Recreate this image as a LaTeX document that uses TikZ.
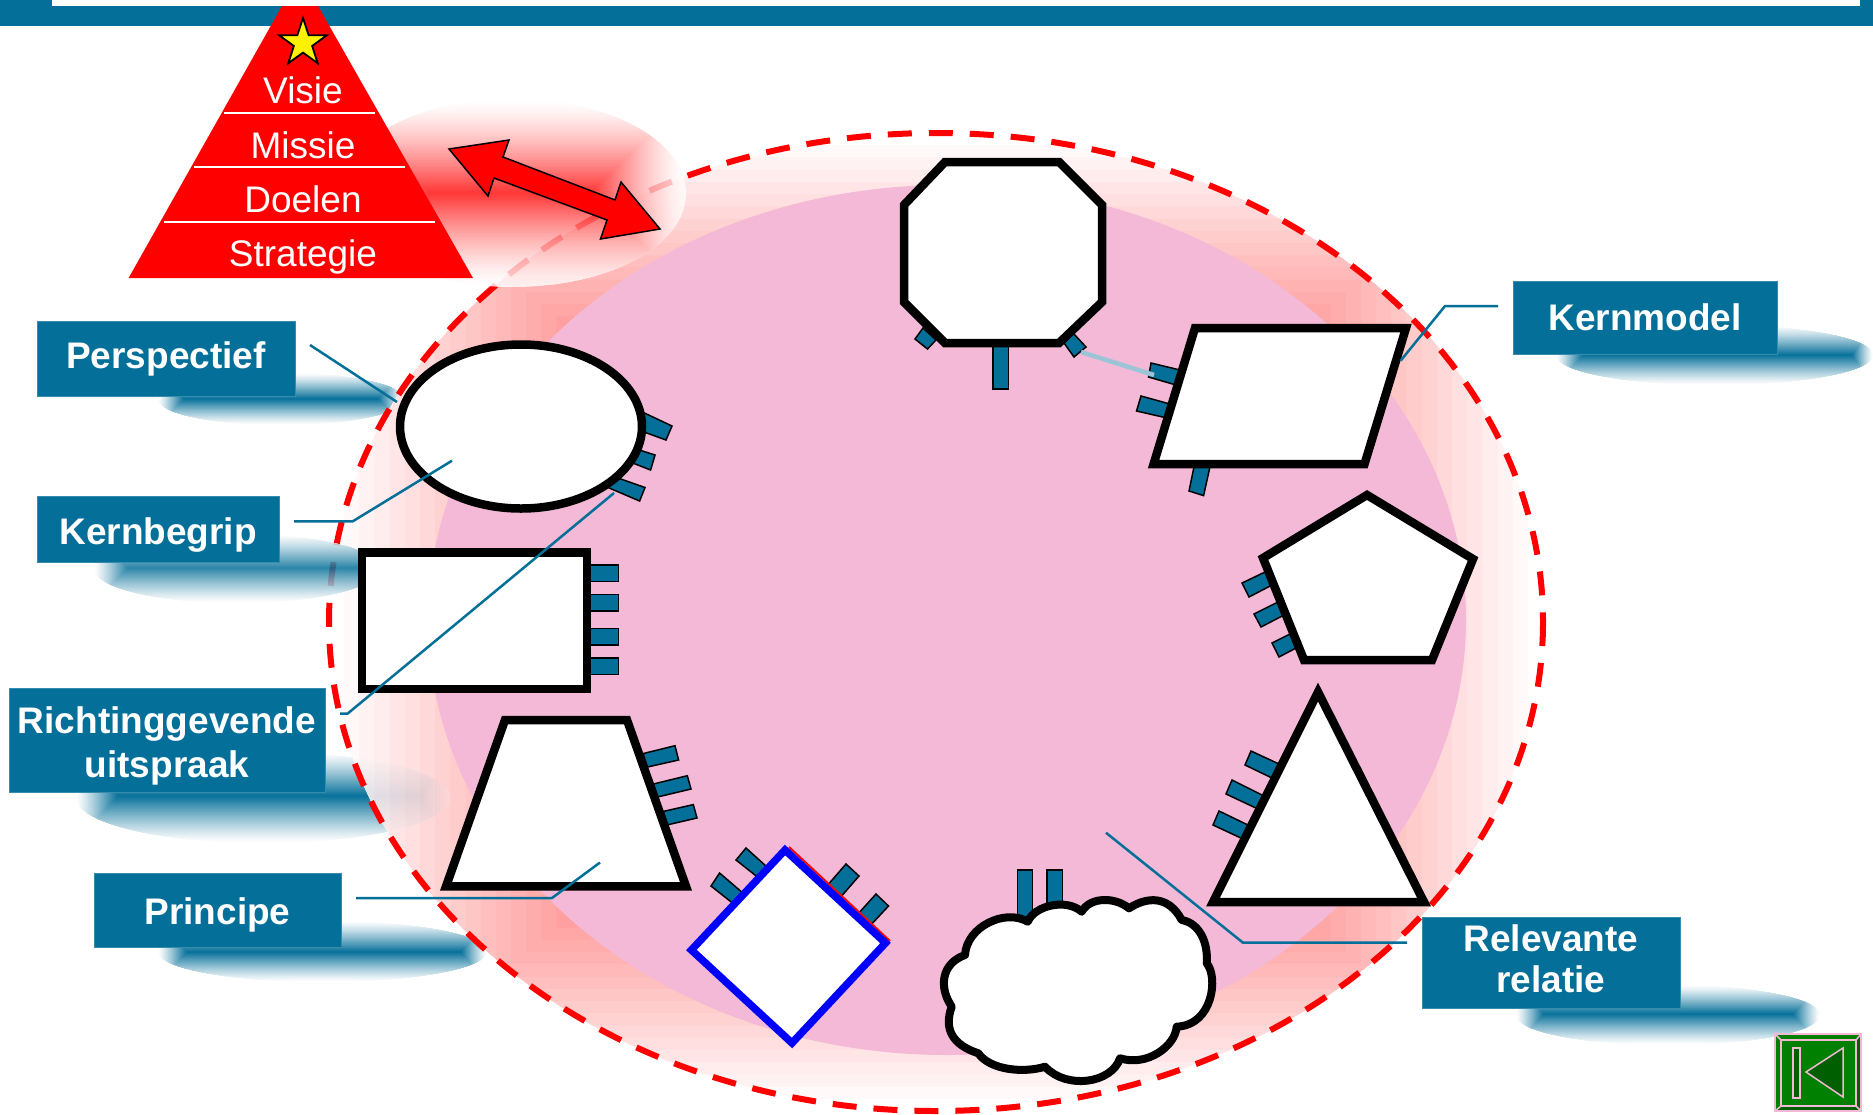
\documentclass[tikz,border=0pt]{standalone}
\usepackage{fontspec}
\setmainfont{Liberation Sans}
\usetikzlibrary{shapes.geometric}

\definecolor{kernteal}{HTML}{046F99}
\definecolor{kernpink}{HTML}{F3B9D7}
\definecolor{knoppink}{HTML}{F4B8D4}
\definecolor{knopgreen}{HTML}{008000}
\definecolor{knopdark}{HTML}{005F00}

\tikzset{
  labelbox/.style={fill=kernteal, draw=kernteal!80!white, line width=1pt, text=white, inner sep=0pt,
    align=center, font=\fontsize{37}{42}\selectfont\bfseries},
  piramidetext/.style={text=white, inner sep=0pt, anchor=base, font=\fontsize{37}{42}\selectfont},
  piramiderule/.style={white, line width=2.5pt},
  leader/.style={kernteal, line width=2.5pt, line join=round},
  stubbox/.style={fill=kernteal, draw=black, line width=1.5pt},
  vorm/.style={fill=white, draw=black, line width=8.5pt, line join=miter}
}

% soft blob: box (x0,y0)-(x1,y1), shrinking to the line (xa,ya)-(xb,ya)
\def\blobpow{1.2}
\newcommand{\softblob}[9]{
  \begin{scope}[transparency group, opacity=#9]
    \begin{scope}
      \clip ({(#1+#3)/2},{(#2+#4)/2}) ellipse [x radius={(#3-#1)/2}, y radius={(#4-#2)/2}];
      \foreach \k in {0,...,40} {
        \pgfmathsetmacro{\t}{\k/40}
        \pgfmathsetmacro{\pct}{100*\t^\blobpow}
        \fill[#8!\pct!white] ({#1+\t*(#5-#1)},{#2+\t*(#6-#2)}) rectangle ({#3+\t*(#7-#3)},{#4+\t*(#6-#4)});
      }
    \end{scope}
  \end{scope}
}

\begin{document}
\begin{tikzpicture}[x=1pt, y=-1pt]
  \useasboundingbox (0,0) rectangle (1873,1114);
  \fill[white] (0,0) rectangle (1873,1114);

  % top bar
  \fill[kernteal] (0,0) rectangle (1873,26);
  \fill[white] (52,0) rectangle (1860,6);

  % shadows under the ring
  \softblob{158}{373}{404}{425}{184}{399}{378}{kernteal}{1}
  \softblob{76}{752}{450}{843}{118}{796}{420}{kernteal}{1}
  \softblob{158}{921}{487}{982}{187}{952}{461}{kernteal}{1}

  % ring and centre
  \def\blobpow{1}
  \softblob{329}{133}{1543}{1111}{936}{622}{936}{red}{1}
  \def\blobpow{1.2}
  \begin{scope}
    \clip (936,622) ellipse [x radius=607, y radius=489];
    \softblob{76}{752}{450}{843}{118}{796}{420}{kernteal}{0.12}
  \end{scope}
  \draw[red, line width=6pt, dash pattern=on 24pt off 17pt] (936,622) ellipse [x radius=607, y radius=489];
  \fill[kernpink] (947,620) ellipse [x radius=519, y radius=435];

  % shadows on top
  \softblob{94}{534}{380}{603}{128}{568}{360}{kernteal}{0.85}
  \softblob{1556}{325}{1873}{385}{1583}{355}{1852}{kernteal}{1}
  \softblob{1516}{985}{1820}{1045}{1544}{1014}{1793}{kernteal}{1}
  \def\blobpow{1.4}
  \softblob{340}{99}{686}{287}{430}{193}{590}{red}{0.8}
  \def\blobpow{1.2}

  % stubs
  \draw[stubbox] (993,340) rectangle (1008.5,389);
  \draw[stubbox] (923,328) -- (915,339) -- (927.5,349) -- (936,340) -- cycle;
  \draw[stubbox] (1073,333) -- (1086,347) -- (1074,357) -- (1064,343) -- cycle;
  \draw[stubbox] (1151,363) -- (1180,370) -- (1176,385) -- (1148.5,377) -- cycle;
  \draw[stubbox] (1141,396) -- (1170,404) -- (1167,418) -- (1136.5,411) -- cycle;
  \draw[stubbox] (1195,462) -- (1211,462) -- (1203.6,495.6) -- (1189,491) -- cycle;
  \draw[stubbox] (1242,583) -- (1265,572) -- (1272,585) -- (1249,597) -- cycle;
  \draw[stubbox] (1254,614) -- (1278,602) -- (1284,615) -- (1261,627) -- cycle;
  \draw[stubbox] (1272,643) -- (1290,634) -- (1296,648) -- (1279,657) -- cycle;
  \draw[stubbox] (1251,751) -- (1279,764) -- (1272,778) -- (1245,765) -- cycle;
  \draw[stubbox] (1232,780) -- (1264,796) -- (1258,809) -- (1226,794) -- cycle;
  \draw[stubbox] (1219,811) -- (1250,826) -- (1243,839) -- (1213,825) -- cycle;
  \draw[stubbox] (1017.3,870) rectangle (1032.7,925);
  \draw[stubbox] (1047,870) rectangle (1062.7,915);
  \draw[stubbox] (746,848) -- (767,867) -- (760,879) -- (736,860) -- cycle;
  \draw[stubbox] (719.6,873) -- (744,894) -- (735,905) -- (711,886) -- cycle;
  \draw[stubbox] (846,864) -- (859,876) -- (839,899) -- (826,887) -- cycle;
  \draw[stubbox] (876,894) -- (888.5,906) -- (868,928) -- (857,915) -- cycle;
  \draw[stubbox] (643,753.6) -- (675,745.7) -- (678.6,760) -- (647.4,767) -- cycle;
  \draw[stubbox] (653.4,784) -- (687.3,775.7) -- (691,789) -- (657.5,797) -- cycle;
  \draw[stubbox] (663.4,811.4) -- (693.3,804.6) -- (697,818) -- (666.7,825) -- cycle;
  \foreach \y in {565,594.6,628.6,658}
    \draw[stubbox] (585,\y) rectangle ++(33.5,16.5);
  \draw[stubbox] (638,410) -- (672,426) -- (666,440) -- (633,428) -- cycle;
  \draw[stubbox] (630,447) -- (655,455) -- (650.6,470) -- (625,460) -- cycle;
  \draw[stubbox] (615,477) -- (645,487.5) -- (639.6,501) -- (608,487.5) -- cycle;

  % shapes
  \draw[kernteal!40!white, line width=4.5pt] (1081,352) -- (1154,375);
  \draw[vorm] (945,162) -- (1059,162) -- (1102,205) -- (1102,302) -- (1059,343) -- (945,343) -- (904,302) -- (904,205) -- cycle;
  \draw[vorm] (1195,328) -- (1406,328) -- (1364.5,464) -- (1153.6,464) -- cycle;
  \draw[vorm] (1367,495) -- (1473,559) -- (1432,660) -- (1304,660) -- (1263,558) -- cycle;
  \draw[vorm] (1318,692) -- (1424,902) -- (1213,902) -- cycle;
  \draw[vorm] (505,720) -- (627,720) -- (686,886.4) -- (446,886.4) -- cycle;
  \draw[vorm] (362,552.5) rectangle (587,689);
  \draw[vorm] (521,426.5) ellipse [x radius=121, y radius=82];
  \draw[vorm, line width=8pt, line join=round] (965,955)
    .. controls (966.7,926.7) and (1005,908.3) .. (1027.7,921.7)
    .. controls (1035,905) and (1066.7,898.3) .. (1081.7,911.7)
    .. controls (1090,896.7) and (1115,896.7) .. (1129,908.3)
    .. controls (1146.7,896.7) and (1168.3,895) .. (1181.7,920)
    .. controls (1200,923.3) and (1208.3,943.3) .. (1206.7,963.3)
    .. controls (1218.3,976.7) and (1213.3,1025) .. (1176.7,1026.7)
    .. controls (1175,1046.7) and (1146.7,1066.7) .. (1120,1058.3)
    .. controls (1111.7,1083.3) and (1066.7,1090) .. (1045,1066.7)
    .. controls (1023.3,1073.3) and (990,1070) .. (978.3,1053.3)
    .. controls (953.3,1045) and (943.3,1030) .. (951.7,1006.7)
    .. controls (938.3,986.7) and (941.7,963.3) .. cycle;
  \draw[red, line width=2pt] (789,847) -- (890,941);
  \draw[vorm, draw=blue, line width=7.5pt] (785,850) -- (885.5,943) -- (792,1043) -- (691.4,950) -- cycle;

  % label boxes
  \node[labelbox, minimum width=258pt, minimum height=75pt] (perspectief) at (166,358.5) {Perspectief};
  \node[labelbox, minimum width=242pt, minimum height=66pt] (kernbegrip) at (158,529) {\rule{0pt}{39pt}Kernbegrip};
  \node[labelbox, minimum width=316pt, minimum height=104pt, font=\fontsize{37}{44.6}\selectfont\bfseries] (richting) at (167,740) {\rule{0pt}{39pt}Richtinggevende\\uitspraak};
  \node[labelbox, minimum width=247pt, minimum height=74pt] (principe) at (217.5,910) {\rule{0pt}{37pt}Principe};
  \node[labelbox, minimum width=264pt, minimum height=73pt] (kernmodel) at (1645,317.5) {Kernmodel};
  \node[labelbox, minimum width=258pt, minimum height=91pt, font=\fontsize{37}{40.6}\selectfont\bfseries] (relevante) at (1551,962.5) {Relevante\\relatie\rule[-8pt]{0pt}{8pt}};

  % leader lines
  \coordinate (perspectief-a) at (310,345);
  \coordinate (perspectief-b) at (397,402);
  \coordinate (kernbegrip-a) at (294,521.4);
  \coordinate (kernbegrip-b) at (352.6,521.4);
  \coordinate (kernbegrip-c) at (452,460.7);
  \coordinate (richting-a) at (340,713.6);
  \coordinate (richting-b) at (347.6,713.6);
  \coordinate (richting-c) at (614,493);
  \coordinate (principe-a) at (356,898);
  \coordinate (principe-b) at (552,898);
  \coordinate (principe-c) at (600,862.5);
  \coordinate (kernmodel-a) at (1498,306);
  \coordinate (kernmodel-b) at (1445,306);
  \coordinate (kernmodel-c) at (1400.6,360.7);
  \coordinate (relevante-a) at (1407,942.7);
  \coordinate (relevante-b) at (1243,942.7);
  \coordinate (relevante-c) at (1106,832.7);
  \draw[leader] (perspectief-a) -- (perspectief-b);
  \draw[leader] (kernbegrip-a) -- (kernbegrip-b) -- (kernbegrip-c);
  \draw[leader] (richting-a) -- (richting-b) -- (richting-c);
  \draw[leader] (principe-a) -- (principe-b) -- (principe-c);
  \draw[leader] (kernmodel-a) -- (kernmodel-b) -- (kernmodel-c);
  \draw[leader] (relevante-a) -- (relevante-b) -- (relevante-c);

  % pyramid
  \fill[red] (282,6) -- (318,6) -- (473,278) -- (128.6,278) -- cycle;
  \draw[piramiderule] (224,113) -- (375,113);
  \draw[piramiderule] (194,167) -- (405,167);
  \draw[piramiderule] (164,222) -- (435,222);
  \node[star, star points=5, star point ratio=2.6, fill=yellow, draw=black, line width=1.8pt,
    minimum size=50pt, inner sep=0pt] (ster) at (303,43) {};
  \node[piramidetext] (visie) at (303,103) {Visie};
  \node[piramidetext] (missie) at (303,158) {Missie};
  \node[piramidetext] (doelen) at (303,212) {Doelen};
  \node[piramidetext] (strategie) at (303,266) {Strategie};
  \draw[fill=red, draw=black, line width=1.5pt, line join=miter] (449,149) -- (509,140) -- (503,157)
    -- (615,200) -- (621,182) -- (660,229) -- (600.5,239) -- (607,220) -- (494,178) -- (488,196) -- cycle;

  % back button
  \fill[knopgreen] (1775,1034) rectangle (1861,1111);
  \fill[knopdark] (1861,1034) -- (1856,1040) -- (1856,1106) -- (1781,1106) -- (1775,1111) -- (1861,1111) -- cycle;
  \draw[knoppink, line width=1.5pt] (1775,1034) rectangle (1861,1111);
  \draw[knoppink, line width=1.5pt] (1781,1040) rectangle (1856,1106);
  \draw[knoppink, line width=1.5pt] (1775,1034) -- (1781,1040) (1861,1034) -- (1856,1040)
    (1775,1111) -- (1781,1106) (1861,1111) -- (1856,1106);
  \draw[knoppink, fill=knopdark, line width=1.5pt] (1793,1048) rectangle (1800,1098);
  \draw[knoppink, fill=knopdark, line width=1.5pt] (1843,1048) -- (1806,1072) -- (1843,1097) -- cycle;
\end{tikzpicture}
\end{document}
